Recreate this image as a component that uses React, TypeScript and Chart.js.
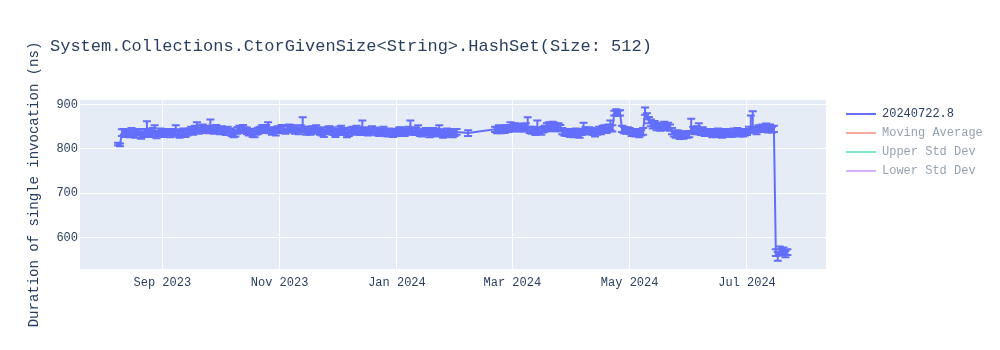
import { useEffect, useRef } from "react";
import { Chart, registerables } from "chart.js";

Chart.register(...registerables);

const TITLE = "System.Collections.CtorGivenSize<String>.HashSet(Size: 512)";
const Y_TITLE = "Duration of single invocation (ns)";
const SERIES_NAMES = ["20240722.8", "Moving Average", "Upper Std Dev", "Lower Std Dev"];
const SERIES_COLORS = ["#636efa", "#EF553B", "#00cc96", "#ab63fa"];
const SERIES_VISIBLE = [true, false, false, false];

const X_TICKS = ["2023-09-01", "2023-11-01", "2024-01-01", "2024-03-01", "2024-05-01", "2024-07-01"];
const X_TICK_LABELS = ["Sep 2023", "Nov 2023", "Jan 2024", "Mar 2024", "May 2024", "Jul 2024"];
const Y_TICKS = [600, 700, 800, 900];
const X_RANGE = ["2023-07-20T05:00:00Z", "2024-08-11T02:00:00Z"];
const Y_RANGE = [529.5, 910.1];

// one run per day, inclusive date ranges
const DATE_RUNS = [
  ["2023-08-09", "2024-02-01"],
  ["2024-02-07", "2024-02-07"],
  ["2024-02-21", "2024-07-22"],
];

const VALUES = [
  // Aug 9-31 2023
  811, 809, 836, 838, 834, 837, 833, 839, 835, 832, 836, 838, 830, 833, 837, 841, 836, 834, 839, 838, 831, 835, 838,
  // Sep 2023
  837, 834, 839, 836, 833, 838, 835, 839, 837, 832,
  836, 839, 834, 837, 840, 842, 839, 844, 846, 841,
  845, 848, 843, 846, 842, 847, 844, 841, 846, 843,
  // Oct 2023
  840, 844, 842, 838, 843, 839, 836, 832, 835, 841,
  845, 843, 847, 842, 840, 837, 839, 834, 833, 838,
  841, 844, 846, 843, 847, 846, 842, 839, 841, 837, 843,
  // Nov 2023
  842, 846, 844, 840, 845, 848, 843, 846, 841, 844,
  840, 845, 848, 843, 839, 842, 838, 844, 841, 846,
  843, 839, 836, 834, 840, 843, 845, 840, 837, 834,
  // Dec 2023
  838, 842, 845, 841, 837, 833, 836, 840, 843, 839,
  844, 841, 838, 844, 842, 839, 836, 840, 843, 838,
  841, 837, 835, 839, 842, 838, 835, 840, 837, 834, 838,
  // Jan 2024
  836, 840, 842, 838, 835, 839, 843, 845, 841, 838,
  842, 840, 836, 834, 838, 841, 837, 833, 836, 839,
  835, 838, 840, 836, 832, 835, 838, 834, 837, 833, 836,
  // Feb 1, Feb 7
  838,
  836,
  // Feb 21-29
  844, 842, 845, 841, 846, 843, 847, 845, 849,
  // Mar 2024
  846, 850, 847, 851, 845, 849, 846, 850, 848, 843,
  840, 844, 838, 843, 841, 839, 843, 846, 849, 852,
  848, 853, 850, 847, 851, 846, 840, 837, 835, 838, 834,
  // Apr 2024
  836, 833, 838, 835, 832, 837, 840, 842, 839, 843,
  840, 837, 835, 839, 842, 840, 844, 846, 843, 847,
  848, 846, 880, 883, 879, 881, 845, 842, 840, 843,
  // May 2024
  840, 836, 838, 834, 837, 833, 836, 839, 884, 873,
  865, 858, 852, 855, 849, 853, 848, 851, 854, 849,
  852, 847, 840, 835, 831, 834, 829, 832, 830, 834, 831,
  // Jun 2024
  833, 846, 842, 840, 845, 843, 838, 841, 836, 839,
  835, 838, 833, 837, 834, 839, 836, 832, 835, 838,
  834, 837, 833, 839, 836, 840, 835, 838, 834, 837,
  // Jul 1-22 2024
  838, 842, 845, 847, 843, 840, 846, 844, 848, 845,
  849, 844, 847, 843, 845,
  566, 562, 571, 568, 570, 564, 567,
];

const ERR_UP = [
  // Aug
  3, 3, 8, 7, 8, 6, 7, 8, 7, 6, 8, 7, 6, 7, 8, 21, 7, 6, 8, 15, 7, 6, 8,
  // Sep
  7, 8, 6, 7, 8, 7, 6, 14, 7, 8,
  6, 7, 8, 7, 6, 8, 7, 8, 14, 7,
  8, 7, 8, 6, 7, 19, 8, 7, 8, 7,
  // Oct
  8, 7, 6, 8, 7, 7, 8, 6, 7, 8,
  7, 8, 7, 6, 8, 7, 6, 7, 7, 8,
  7, 6, 8, 7, 7, 14, 7, 8, 6, 7, 8,
  // Nov
  7, 8, 7, 6, 8, 7, 8, 7, 6, 8,
  7, 8, 23, 7, 6, 8, 7, 7, 8, 7,
  6, 8, 7, 7, 8, 7, 6, 8, 7, 7,
  // Dec
  7, 8, 7, 6, 8, 7, 7, 8, 7, 6,
  8, 7, 6, 20, 7, 8, 7, 6, 8, 7,
  7, 8, 6, 7, 8, 7, 7, 6, 8, 7, 7,
  // Jan
  7, 8, 7, 6, 8, 7, 7, 19, 7, 8,
  6, 13, 7, 8, 7, 6, 8, 7, 7, 8,
  6, 7, 13, 8, 7, 6, 8, 7, 7, 6, 8,
  // Feb 1, Feb 7
  7,
  6,
  // Feb 21-29
  6, 7, 8, 7, 6, 8, 7, 7, 11,
  // Mar
  7, 8, 7, 6, 8, 7, 7, 8, 23, 7,
  8, 6, 7, 21, 7, 8, 7, 6, 9, 8,
  9, 8, 9, 8, 7, 8, 7, 6, 8, 7, 7,
  // Apr
  7, 6, 8, 7, 7, 8, 19, 7, 8, 6,
  7, 8, 7, 6, 8, 7, 8, 7, 6, 8,
  16, 7, 6, 6, 7, 6, 7, 8, 7, 6,
  // May
  7, 8, 6, 7, 8, 7, 6, 8, 9, 7,
  7, 8, 7, 8, 7, 6, 8, 7, 7, 8,
  7, 8, 7, 6, 7, 8, 6, 7, 7, 6, 8,
  // Jun
  7, 22, 8, 7, 6, 15, 7, 8, 7, 6,
  8, 7, 7, 6, 8, 7, 7, 8, 6, 7,
  8, 7, 6, 7, 8, 7, 7, 6, 8, 7,
  // Jul
  7, 8, 30, 38, 7, 8, 7, 8, 7, 6,
  8, 7, 8, 7, 7,
  8, 6, 9, 7, 8, 6, 7,
];

const ERR_DOWN = [
  // Aug
  3, 3, 7, 6, 7, 6, 7, 7, 6, 7, 6, 7, 7, 6, 7, 7, 6, 7, 7, 6, 7, 7, 6,
  // Sep
  6, 7, 7, 6, 7, 6, 7, 7, 6, 7,
  7, 6, 7, 7, 6, 7, 7, 6, 7, 7,
  6, 7, 7, 6, 7, 7, 6, 7, 7, 6,
  // Oct
  7, 6, 7, 7, 6, 7, 7, 6, 7, 7,
  6, 7, 7, 6, 7, 7, 6, 7, 7, 6,
  7, 7, 6, 7, 7, 6, 7, 7, 6, 7, 7,
  // Nov
  6, 7, 7, 6, 7, 7, 6, 7, 7, 6,
  7, 7, 7, 6, 7, 7, 6, 7, 7, 6,
  7, 7, 6, 7, 7, 6, 7, 7, 6, 7,
  // Dec
  7, 6, 7, 7, 6, 7, 7, 6, 7, 7,
  6, 7, 7, 6, 7, 7, 6, 7, 7, 6,
  7, 7, 6, 7, 7, 6, 7, 7, 6, 7, 7,
  // Jan
  7, 6, 7, 7, 6, 7, 7, 6, 7, 7,
  6, 7, 7, 6, 7, 7, 6, 7, 7, 6,
  7, 7, 6, 7, 7, 6, 7, 7, 6, 7, 7,
  // Feb 1, Feb 7
  6,
  7,
  // Feb 21-29
  6, 7, 7, 6, 7, 7, 6, 7, 7,
  // Mar
  7, 6, 7, 7, 6, 7, 7, 6, 7, 7,
  6, 7, 7, 6, 7, 7, 6, 7, 8, 7,
  8, 7, 8, 7, 7, 6, 7, 7, 6, 7, 7,
  // Apr
  7, 7, 6, 7, 7, 6, 7, 7, 6, 7,
  7, 6, 7, 7, 6, 7, 7, 6, 7, 7,
  6, 7, 5, 6, 5, 6, 7, 7, 6, 7,
  // May
  6, 7, 7, 6, 7, 7, 6, 7, 7, 6,
  7, 7, 6, 7, 7, 6, 7, 7, 6, 7,
  7, 6, 7, 7, 6, 7, 7, 6, 7, 7, 6,
  // Jun
  7, 6, 7, 7, 6, 7, 7, 6, 7, 7,
  6, 7, 7, 6, 7, 7, 6, 7, 7, 6,
  7, 7, 6, 7, 7, 6, 7, 7, 6, 7,
  // Jul
  7, 6, 7, 7, 6, 7, 7, 6, 7, 7,
  6, 7, 7, 6, 7,
  7, 14, 7, 8, 7, 8, 6,
];

const FONT = "'Liberation Mono', 'Courier New', monospace";
const TEXT_COLOR = "#2a3f5f";
const PLOT_BG = "#E5ECF6";
const DAY_MS = 86400000;

function expandRuns(runs: string[][]): number[] {
  const out: number[] = [];
  for (const [a, b] of runs) {
    const end = Date.parse(b);
    for (let t = Date.parse(a); t <= end; t += DAY_MS) out.push(t);
  }
  return out;
}

const errorBarsPlugin = {
  id: "errorBars",
  afterDatasetsDraw(chart: any) {
    const { ctx, chartArea: a, scales } = chart;
    const xs = scales.x;
    const ys = scales.y;
    const pts = chart.data.datasets[0].data;
    ctx.save();
    ctx.beginPath();
    ctx.rect(a.left, a.top, a.right - a.left, a.bottom - a.top);
    ctx.clip();
    ctx.strokeStyle = SERIES_COLORS[0];
    ctx.lineWidth = 2;
    const half = 4;
    for (let i = 0; i < pts.length; i++) {
      const px = xs.getPixelForValue(pts[i].x);
      const top = ys.getPixelForValue(VALUES[i] + ERR_UP[i]);
      const bot = ys.getPixelForValue(VALUES[i] - ERR_DOWN[i]);
      ctx.beginPath();
      ctx.moveTo(px, top);
      ctx.lineTo(px, bot);
      ctx.moveTo(px - half, top);
      ctx.lineTo(px + half, top);
      ctx.moveTo(px - half, bot);
      ctx.lineTo(px + half, bot);
      ctx.stroke();
    }
    ctx.restore();
  },
};

const decorPlugin = {
  id: "decor",
  beforeDraw(chart: any) {
    const { ctx, chartArea: a } = chart;
    ctx.save();
    ctx.fillStyle = PLOT_BG;
    ctx.fillRect(a.left, a.top, a.right - a.left, a.bottom - a.top);
    ctx.restore();
  },
  afterDraw(chart: any) {
    const { ctx, chartArea: a } = chart;
    ctx.save();
    ctx.fillStyle = TEXT_COLOR;
    ctx.font = `17px ${FONT}`;
    ctx.textAlign = "left";
    ctx.textBaseline = "alphabetic";
    ctx.fillText(TITLE, 50, 51);
    ctx.save();
    ctx.translate(34, (a.top + a.bottom) / 2);
    ctx.rotate(-Math.PI / 2);
    ctx.font = `14px ${FONT}`;
    ctx.textAlign = "center";
    ctx.textBaseline = "middle";
    ctx.fillText(Y_TITLE, 0, 0);
    ctx.restore();
    ctx.font = `12px ${FONT}`;
    ctx.textAlign = "left";
    ctx.textBaseline = "middle";
    chart.data.datasets.forEach((ds: any, i: number) => {
      const y = 114 + 19 * i;
      ctx.globalAlpha = SERIES_VISIBLE[i] ? 1 : 0.5;
      ctx.strokeStyle = ds.borderColor;
      ctx.lineWidth = 2;
      ctx.beginPath();
      ctx.moveTo(846, y);
      ctx.lineTo(876, y);
      ctx.stroke();
      ctx.fillStyle = TEXT_COLOR;
      ctx.fillText(ds.label, 882, y);
    });
    ctx.restore();
  },
};

export default function App() {
  const canvasRef = useRef<HTMLCanvasElement | null>(null);

  useEffect(() => {
    const canvas = canvasRef.current;
    if (!canvas) return;
    const times = expandRuns(DATE_RUNS);
    const n = Math.min(times.length, VALUES.length, ERR_UP.length, ERR_DOWN.length);
    const mainData = [];
    for (let i = 0; i < n; i++) mainData.push({ x: times[i], y: VALUES[i] });
    const datasets = SERIES_NAMES.map((name, i) => ({
      label: name,
      data: i === 0 ? mainData : [],
      borderColor: SERIES_COLORS[i],
      backgroundColor: SERIES_COLORS[i],
      borderWidth: 2,
      pointRadius: 0,
      tension: 0,
      hidden: !SERIES_VISIBLE[i],
    }));
    const chart = new Chart(canvas, {
      type: "line",
      data: { datasets },
      plugins: [decorPlugin, errorBarsPlugin],
      options: {
        animation: false,
        responsive: false,
        devicePixelRatio: 1,
        layout: { padding: { left: 0, right: 174, top: 100, bottom: 0 } },
        plugins: {
          legend: { display: false },
          title: { display: false },
          tooltip: { enabled: false },
        },
        scales: {
          x: {
            type: "linear",
            min: Date.parse(X_RANGE[0]),
            max: Date.parse(X_RANGE[1]),
            afterFit: (s: any) => {
              s.height = 81;
            },
            afterBuildTicks: (s: any) => {
              s.ticks = X_TICKS.map((d) => ({ value: Date.parse(d) }));
            },
            ticks: {
              autoSkip: false,
              maxRotation: 0,
              padding: 7,
              color: TEXT_COLOR,
              font: { family: FONT, size: 12 },
              callback: (_v: any, idx: number) => X_TICK_LABELS[idx],
            },
            grid: { color: "#ffffff", lineWidth: 1, drawTicks: false },
            border: { display: false },
          },
          y: {
            type: "linear",
            min: Y_RANGE[0],
            max: Y_RANGE[1],
            afterFit: (s: any) => {
              s.width = 80;
            },
            afterBuildTicks: (s: any) => {
              s.ticks = Y_TICKS.map((v) => ({ value: v }));
            },
            ticks: {
              padding: 2,
              color: TEXT_COLOR,
              font: { family: FONT, size: 12 },
              callback: (v: any) => String(v),
            },
            grid: { color: "#ffffff", lineWidth: 1, drawTicks: false },
            border: { display: false },
          },
        },
      },
    } as any);
    return () => chart.destroy();
  }, []);

  return (
    <div style={{ position: "absolute", left: 0, top: 0, width: 1000, height: 350, background: "#fff" }}>
      <canvas ref={canvasRef} width={1000} height={350} style={{ width: 1000, height: 350, display: "block" }} />
    </div>
  );
}
